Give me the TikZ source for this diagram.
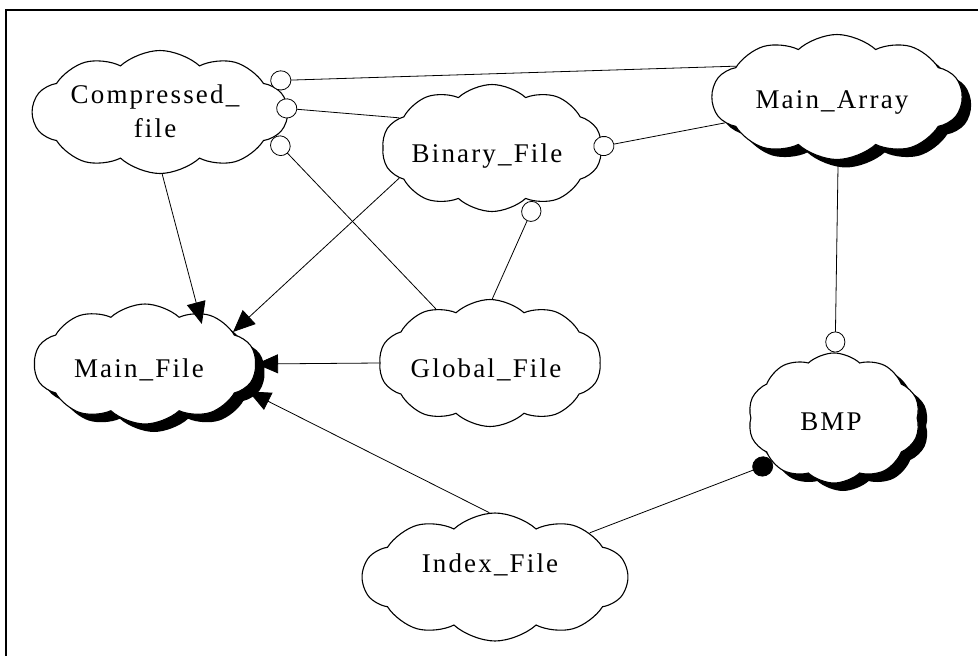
\documentclass[tikz,border=0pt]{standalone}
\usepackage{fontspec}
\setmainfont{Liberation Serif}[LetterSpace=8]
\usetikzlibrary{shapes.symbols,shadows,arrows.meta}

\tikzset{
  cloudbox/.style={cloud, cloud puffs=10, cloud puff arc=85, draw, line width=1.1pt,
    fill=white, inner sep=0pt},
  shad/.style={drop shadow={shadow xshift=9pt, shadow yshift=-8pt, fill=black, opacity=1}},
  lbl/.style={inner sep=0pt, anchor=base, font=\fontsize{27}{34}\selectfont, align=center},
  link/.style={line width=0.8pt},
  toarrow/.style={link, -{Triangle[length=22pt,width=19pt]}},
  ocirc/.style={link, -{Circle[open,length=21pt,width=20pt,fill=white]}},
  fcirc/.style={link, -{Circle[length=21pt,width=20pt]}},
}

\begin{document}
\begin{tikzpicture}[x=1pt,y=-1pt]
\useasboundingbox (0,0) rectangle (978,656);

% page frame (only top and left edges are in view)
\draw[line width=1.3pt] (6,656) -- (6,10) -- (978,10);

% entity clouds
\node[cloudbox, minimum width=255pt, minimum height=123pt] (cmp) at (160,112) {};
\node[cloudbox, minimum width=220pt, minimum height=127pt] (bin) at (492,148) {};
\node[cloudbox, shad, minimum width=250pt, minimum height=125pt] (arr) at (837,97) {};
\node[cloudbox, shad, minimum width=222pt, minimum height=120pt] (mf) at (145,364) {};
\node[cloudbox, minimum width=222pt, minimum height=127pt] (gl) at (490,363) {};
\node[cloudbox, shad, minimum width=172pt, minimum height=130pt] (bmp) at (834,418) {};
\node[cloudbox, minimum width=265pt, minimum height=128pt] (idx) at (495,577) {};

% names (base anchor = baseline of the last line)
\node[lbl] (cmpt) at (155,137) {Compressed\_\\file};
\node[lbl] (bint) at (487,162) {Binary\_File};
\node[lbl] (arrt) at (832,108) {Main\_Array};
\node[lbl] (mft)  at (139,377) {Main\_File};
\node[lbl] (glt)  at (486,377) {Global\_File};
\node[lbl] (bmpt) at (831,430) {BMP};
\node[lbl] (idxt) at (490,572) {Index\_File};

% relationships
\draw[ocirc] (arr.163) -- ([xshift=8pt]cmp.17);
\draw[ocirc] (bin.162) -- ([xshift=-12pt]cmp.2);
\draw[ocirc] (gl.135) -- (cmp.-13);
\draw[toarrow] (bin.-162) -- (mf.20);
\draw[toarrow] (cmp.-88) -- ([xshift=-5pt,yshift=-10pt]mf.39);
\draw[toarrow] (gl.180) -- (mf.0);
\draw[toarrow] (idx.95) -- ([xshift=8pt]mf.-16);
\draw[ocirc] (gl.88) -- (bin.-51);
\draw[ocirc] (arr.-167) -- ([xshift=-8pt]bin.0);
\draw[ocirc] (arr.-89) -- (bmp.89);
\draw[fcirc] (idx.25) -- (bmp.-144);
\end{tikzpicture}
\end{document}
